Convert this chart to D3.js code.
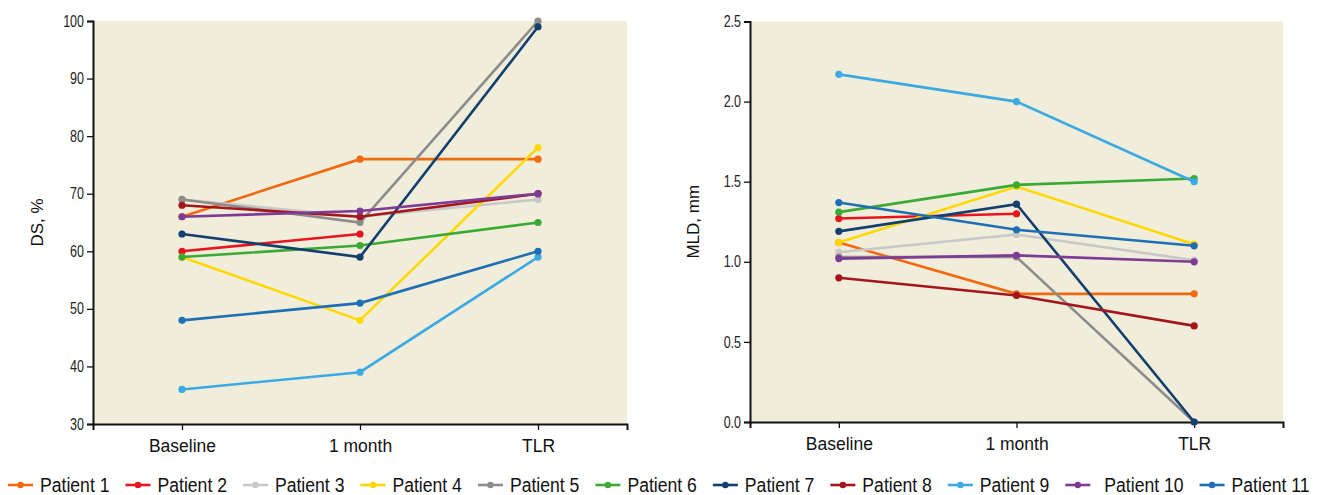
<!DOCTYPE html>
<html>
<head>
<meta charset="utf-8">
<script src="https://cdn.jsdelivr.net/npm/d3@7"></script>
<style>
  body { margin: 0; background: #fff; }
  svg { display: block; }
</style>
</head>
<body>
<svg></svg>
<script>
const width = 1325
const height = 495

// Data
const timepoints = ["Baseline", "1 month", "TLR"]
const patients = ["Patient 1", "Patient 2", "Patient 3", "Patient 4", "Patient 5", "Patient 6",
    "Patient 7", "Patient 8", "Patient 9", "Patient 10", "Patient 11"]
const colors = ["#f26a10", "#e8141e", "#c8c8c8", "#ffd800", "#8c8c8c", "#3aaa35",
    "#123f6e", "#a3161c", "#3caae2", "#7e3a94", "#1f6fb5"]

// DS, % per patient (Baseline, 1 month, TLR)
const dsValues = [
    [66, 76, 76],
    [60, 63, null],
    [69, 66, 69],
    [59, 48, 78],
    [69, 65, 100],
    [59, 61, 65],
    [63, 59, 99],
    [68, 66, 70],
    [36, 39, 59],
    [66, 67, 70],
    [48, 51, 60]
]
const dsTicks = [30, 40, 50, 60, 70, 80, 90, 100]

// MLD, mm per patient (Baseline, 1 month, TLR)
const mldValues = [
    [1.12, 0.80, 0.80],
    [1.27, 1.30, null],
    [1.06, 1.17, 1.01],
    [1.12, 1.47, 1.11],
    [1.03, 1.03, 0],
    [1.31, 1.48, 1.52],
    [1.19, 1.36, 0],
    [0.90, 0.79, 0.60],
    [2.17, 2.00, 1.50],
    [1.02, 1.04, 1.00],
    [1.37, 1.20, 1.10]
]
const mldTicks = [0, 0.5, 1.0, 1.5, 2.0, 2.5]

const svg = d3.select("svg")
    .attr("width", width)
    .attr("height", height)

const narrowFont = "'Liberation Sans', Arial, sans-serif"
const labelFont = "'Liberation Sans', Arial, sans-serif"

// squeeze text horizontally to mimic a condensed face
const condense = (sel, k) => sel.each(function () {
    const len = this.getComputedTextLength()
    d3.select(this)
        .attr("data-w", len * k)
        .attr("textLength", len * k)
        .attr("lengthAdjust", "spacingAndGlyphs")
})

// Draw one panel
const panel = (opts) => {
    const xScale = d3.scalePoint()
        .domain(timepoints)
        .range([opts.left, opts.right])
        .padding(0.5)

    const yScale = d3.scaleLinear()
        .domain(opts.domain)
        .range([opts.bottom, opts.top])

    const g = svg.append("g")

    // background
    g.append("rect")
        .attr("x", opts.left)
        .attr("y", opts.top)
        .attr("width", opts.right - opts.left)
        .attr("height", opts.bottom - opts.top)
        .attr("fill", "#f1eddb")

    // axes
    const yAxis = d3.axisLeft(yScale)
        .tickValues(opts.ticks)
        .tickFormat(opts.format)
        .tickSizeOuter(0)
        .tickSize(6)
    const yAxisG = g.append("g")
        .attr("transform", `translate(${opts.left}, 0)`)
        .call(yAxis)
    yAxisG.select(".domain").attr("stroke-width", 2).attr("stroke", "#111")
    yAxisG.selectAll(".tick line").attr("stroke-width", 1.3).attr("stroke", "#111")
    yAxisG.selectAll(".tick text")
        .attr("font-family", narrowFont)
        .attr("font-size", "16px")
        .attr("fill", "#222")
        .attr("x", -9)
        .call(condense, 0.78)

    const xAxis = d3.axisBottom(xScale).tickSizeOuter(0).tickSize(6)
    const xAxisG = g.append("g")
        .attr("transform", `translate(0, ${opts.bottom})`)
        .call(xAxis)
    xAxisG.select(".domain").attr("stroke-width", 2).attr("stroke", "#111")
    xAxisG.selectAll(".tick line").attr("stroke-width", 1.3).attr("stroke", "#111")
    xAxisG.selectAll(".tick text")
        .attr("font-family", labelFont)
        .attr("font-size", "17.5px")
        .attr("fill", "#111")
        .attr("y", 16)

    // axis title
    g.append("text")
        .attr("transform", `translate(${opts.titleX}, ${(opts.top + opts.bottom) / 2}) rotate(-90)`)
        .attr("text-anchor", "middle")
        .attr("font-family", labelFont)
        .attr("font-size", "17px")
        .attr("fill", "#111")
        .text(opts.title)

    // lines
    const line = d3.line()
        .defined(d => d.v !== null)
        .x(d => xScale(d.t))
        .y(d => yScale(d.v))

    opts.values.forEach((vals, i) => {
        const pts = vals.map((v, j) => ({ t: timepoints[j], v: v }))
        const pg = g.append("g")
        pg.append("path")
            .datum(pts)
            .attr("d", line)
            .attr("fill", "none")
            .attr("stroke", colors[i])
            .attr("stroke-width", 2.6)
        pg.selectAll("circle").data(pts.filter(d => d.v !== null))
            .enter()
            .append("circle")
            .attr("cx", d => xScale(d.t))
            .attr("cy", d => yScale(d.v))
            .attr("r", 3.6)
            .attr("fill", colors[i])
    })
}

panel({
    left: 93, right: 627, top: 21, bottom: 424,
    domain: [30, 100], ticks: dsTicks, format: d3.format("d"),
    values: dsValues, title: "DS, %", titleX: 43
})

panel({
    left: 750, right: 1283, top: 21.5, bottom: 422,
    domain: [0, 2.5], ticks: mldTicks, format: d3.format(".1f"),
    values: mldValues, title: "MLD, mm", titleX: 699
})

// Legend
const legend = svg.append("g").attr("transform", "translate(8, 485)")
let lx = 0
patients.forEach((p, i) => {
    const item = legend.append("g").attr("transform", `translate(${lx}, 0)`)
    item.append("line")
        .attr("x1", 0).attr("x2", 25)
        .attr("stroke", colors[i])
        .attr("stroke-width", 2.6)
    item.append("circle")
        .attr("cx", 12.5)
        .attr("r", 3.2)
        .attr("fill", colors[i])
    const gap = i === 9 ? 39 : 32
    const t = item.append("text")
        .attr("x", gap)
        .attr("y", 7)
        .attr("font-family", narrowFont)
        .attr("font-size", "20px")
        .attr("fill", "#111")
        .text(p)
        .call(condense, 0.88)
    lx += gap + (+t.attr("data-w")) + 16
})
</script>
</body>
</html>
